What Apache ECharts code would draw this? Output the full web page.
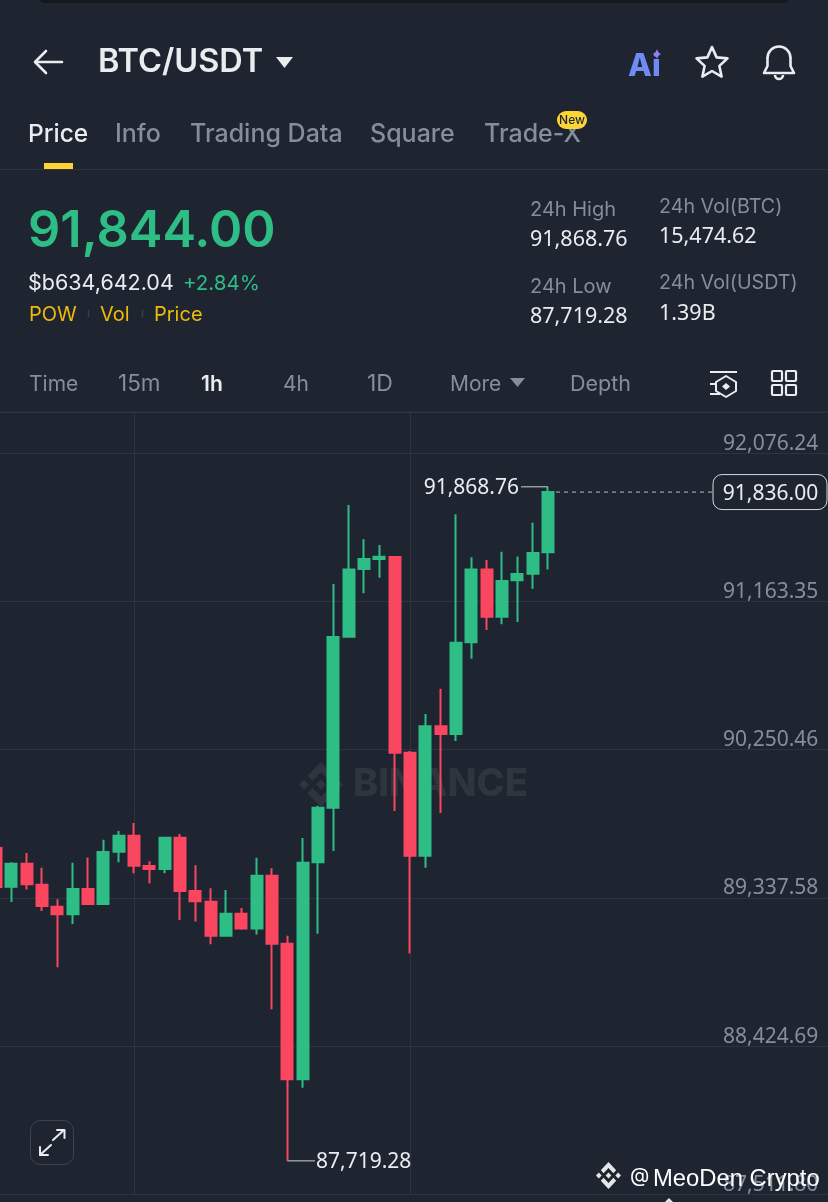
<!DOCTYPE html>
<html><head><meta charset="utf-8">
<style>html,body{margin:0;padding:0;background:#1e2530}#c{width:828px;height:1202px}</style>
<script src="https://cdn.jsdelivr.net/npm/echarts@6/dist/echarts.min.js"></script>
</head><body><div id="c"></div>
<script>
const opens  = [89645,89406,89548,89419,89283,89237,89392,89300,89622,89720,89534,89515,89708,89380,89314,89105,89240,89150,89474,89056,88221,89557,89893,90945,91362,91424,91436,90231,89597,90394,90346,90911,91360,91069,91293,91333,91465];
const closes = [89405,89548,89421,89288,89237,89392,89300,89620,89720,89536,89515,89708,89380,89317,89105,89240,89150,89474,89056,88221,89554,89893,90944,91360,91424,91438,90231,89597,90394,90346,90908,91360,91069,91288,91331,91461,91836];
const lows   = [89355,89312,89390,89257,88910,89177,89300,89300,89557,89489,89427,89489,89201,89193,89052,89105,89142,89113,88652,87719.28,88169,89117,89626,90945,91213,91309,89872,88996,89523,89860,90303,90810,90987,91022,91036,91241,91360];
const highs  = [89663,89557,89614,89523,89329,89554,89587,89696,89749,89799,89563,89708,89731,89538,89397,89386,89275,89585,89520,89105,89706,89905,91270,91756,91545,91510,91436,90242,90470,90625,91699,91434,91418,91469,91440,91647,91868.76];
const extraSlots = ["","","","","","","","","","","","","","","","","","",""];
const candleLabels = opens.map((_, i) => String(i));
const categories = candleLabels.concat(extraSlots);
const axisMin = 87511.80, axisMax = 92325.8, axisStep = 912.888;
const lastPrice = 91836, highPrice = 91868.76, lowPrice = 87719.28;

const BG='#1e2530', GRID='#2d3440', GREEN='#2ebd85', RED='#fb4660', GRAY='#848e9c', WHITE='#eaecef', YEL='#f0b90b';
const FONT='Inter, "Noto Sans", sans-serif', NUM='"Noto Sans", sans-serif', HELV='"Liberation Sans", sans-serif';
const fmt=v=>v.toLocaleString('en-US',{minimumFractionDigits:2,maximumFractionDigits:2});
const LOGO_PARTS=[
 [[38.73,53.2],[63.3,28.63],[87.89,53.23],[102.19,38.92],[63.3,0],[24.42,38.9]],
 [[0,63.31],[14.3,49],[28.61,63.31],[14.3,77.61]],
 [[38.73,73.41],[63.3,97.98],[87.89,73.39],[102.2,87.68],[63.3,126.59],[24.39,87.71]],
 [[98,63.31],[112.3,49],[126.61,63.3],[112.3,77.62]],
 [[77.83,63.3],[63.3,48.76],[48.78,63.27],[63.3,77.77]]
];

const chart=echarts.init(document.getElementById('c'),null,{width:828,height:1202});
chart.setOption({
  backgroundColor:BG, animation:false,
  grid:{left:-4,top:412.5,width:843.33,height:782,containLabel:false,outerBoundsMode:'none'},
  xAxis:{type:'category',data:categories,boundaryGap:false,
    axisLine:{show:true,lineStyle:{color:GRID,width:1}},axisTick:{show:false},axisLabel:{show:false},
    splitLine:{show:true,interval:i=>i===9||i===27,lineStyle:{color:GRID,width:1}}},
  yAxis:{type:'value',position:'right',scale:true,min:axisMin,max:axisMax,interval:axisStep,
    axisLine:{show:false},axisTick:{show:false},
    splitLine:{show:true,lineStyle:{color:GRID,width:1}},
    axisLabel:{inside:true,margin:21,color:GRAY,fontSize:21,fontFamily:NUM,verticalAlign:'bottom',lineHeight:19,showMaxLabel:false,formatter:fmt}},
  series:[{type:'candlestick',barWidth:11.5,clip:false,
    data:opens.map((o,i)=>[o,closes[i],lows[i],highs[i]]),
    itemStyle:{color:GREEN,color0:RED,borderColor:GREEN,borderColor0:RED,borderWidth:2}}]
});

function T(x,y,text,size,fill,weight,align,z,font){return {type:'text',x,y:y+1.5,z:z||10,silent:true,style:{text,fontSize:size,fontFamily:font||FONT,fontWeight:weight||400,fill,align:align||'left',verticalAlign:'middle'}};}
function N(x,y,text,fill,align,z,size){return T(x,y,text,size||21,fill,400,align,z,NUM);}
function L(x1,y1,x2,y2,stroke,w,dash){return {type:'line',z:10,silent:true,shape:{x1,y1,x2,y2},style:{stroke,lineWidth:w||1,lineDash:dash||null}};}
function P(points,stroke,w){return {type:'polyline',z:10,silent:true,shape:{points},style:{stroke,lineWidth:w||2,fill:null,lineCap:'round',lineJoin:'round'}};}
function R(x,y,width,height,r,fill,stroke,z,lw){return {type:'rect',z:z||10,silent:true,shape:{x,y,width,height,r},style:{fill:fill||'transparent',stroke:stroke||null,lineWidth:stroke?(lw||1):0}};}
function G(points,fill,z){return {type:'polygon',z:z||10,silent:true,shape:{points},style:{fill}};}
function logo(x,y,w,h,fill,z){return LOGO_PARTS.map(part=>G(part.map(p=>[x+p[0]*w/126.61,y+p[1]*h/126.59]),fill,z));}

const pLast=chart.convertToPixel({gridIndex:0},[36,lastPrice]);
const pHigh=chart.convertToPixel({gridIndex:0},[36,highPrice]);
const pLow=chart.convertToPixel({gridIndex:0},[19,lowPrice]);

const els=[
  R(38,-10,752,13,8,'#14171c'),
  // header
  P([[36,62],[62,62]],WHITE,2.6),P([[46,51],[35,62],[46,73]],WHITE,2.6),
  T(98,61,'BTC/USDT',32.5,WHITE,600),
  G([[276,57],[293,57],[284.5,68]],WHITE),
  T(628,65,'Ai',31,'#6f8cf6',800),
  G([[657,49],[658.5,52.5],[661,54],[658.5,55.5],[657,59],[655.5,55.5],[653,54],[655.5,52.5]],'#8f7ff0'),
  P([[712,47],[716.6,57.4],[727.5,58.4],[719.4,65.9],[721.6,76.6],[712,71],[702.4,76.6],[704.6,65.9],[696.5,58.4],[707.4,57.4],[712,47]],WHITE,2.6),
  {type:'arc',z:10,silent:true,shape:{cx:779,cy:58,r:11.5,startAngle:Math.PI,endAngle:0,clockwise:true},style:{stroke:WHITE,lineWidth:2.6,fill:null}},
  P([[767.5,58],[767.5,66],[764,73],[794,73],[790.5,66],[790.5,58]],WHITE,2.6),
  {type:'arc',z:10,silent:true,shape:{cx:779,cy:75,r:4,startAngle:0,endAngle:Math.PI,clockwise:true},style:{stroke:WHITE,lineWidth:2.6,fill:null}},
  // tabs
  T(28,133,'Price',24.5,WHITE,500),T(115,133,'Info',25,GRAY,500),T(190,133,'Trading Data',25,GRAY,500),
  T(370,133,'Square',25,GRAY,500),T(484,133,'Trade-X',25,GRAY,500),
  R(557,111,30,18,9,'#fcd535'),T(572,119,'New',12,'#1e2530',500,'center'),
  R(44,163,29,6,0,'#fcd535'),
  L(0,169.5,828,169.5,GRID,1),
  // price block
  T(28,230,'91,844.00',50.5,GREEN,600),
  T(28,282,'$b634,642.04',21.5,WHITE,400),T(183,282,'+2.84%',20.5,GREEN,400),
  T(29,313,'POW',20,YEL,400),T(100,313,'Vol',20,YEL,400),T(154,313,'Price',20,YEL,400),
  L(88.5,310,88.5,317,'#3a404a',1.5),L(142.5,310,142.5,317,'#3a404a',1.5),
  T(530,208,'24h High',20,GRAY),N(530,238,'91,868.76',WHITE,'left',10,21.5),
  T(530,285,'24h Low',20,GRAY),N(530,315,'87,719.28',WHITE,'left',10,21.5),
  T(659,206,'24h Vol(BTC)',19.7,GRAY),N(659,235,'15,474.62',WHITE,'left',10,21.5),
  T(659,282,'24h Vol(USDT)',19.7,GRAY),N(659,312,'1.39B',WHITE,'left',10,21.5),
  // interval row
  T(29,383,'Time',21,GRAY),T(118,383,'15m',22.5,GRAY),T(201,383,'1h',21,WHITE,600),T(283,383,'4h',21,GRAY),
  T(367,383,'1D',23,GRAY),T(450,383,'More',21,GRAY),G([[510,378],[525,378],[517.5,387]],GRAY),T(570,383,'Depth',21.5,GRAY),
  L(710,372,737,372,WHITE,2),L(710,384,720,384,WHITE,2),L(710,394,720,394,WHITE,2),
  G([[726,376],[736,382],[736,391],[726,397],[716,391],[716,382]],BG),
  P([[726,376],[736,382],[736,391],[726,397],[716,391],[716,382],[726,376]],WHITE,2),
  G([[726,383],[730,386.5],[726,390],[722,386.5]],WHITE),
  R(772,371,10,10,1,null,WHITE,10,2.2),R(786,371,10,10,1,null,WHITE,10,2.2),R(772,385,10,10,1,null,WHITE,10,2.2),R(786,385,10,10,1,null,WHITE,10,2.2),
  L(0,412,828,412,GRID,1),
  // watermark
  ...logo(299,762,44,45,'#2f353f',1),
  {type:'text',x:353,y:785,z:1,silent:true,style:{text:'BINANCE',fontSize:38,fontWeight:800,fontFamily:FONT,fill:'#2f353f',verticalAlign:'middle'}},
  // price annotations
  L(pLast[0]+8,pLast[1],713,pLast[1],'#b7bdc6',1,[4,4]),
  R(713,pLast[1]-17.5,114,35,9,BG,'#d5d9df',11),
  N(770.5,pLast[1],fmt(lastPrice),WHITE,'center',12),
  L(521,pHigh[1],pHigh[0],pHigh[1],'#9aa1ab',1.4),
  N(519,pHigh[1],fmt(highPrice),WHITE,'right'),
  L(pLow[0],pLow[1],315,pLow[1],'#9aa1ab',1.4),
  N(316,pLow[1],fmt(lowPrice),WHITE),
  // expand button
  R(30.5,1120.5,43,44,10,null,'#3d444f'),
  P([[53,1140],[64,1130]],WHITE,2),P([[57,1130],[64.5,1130],[64.5,1138]],WHITE,2),
  P([[40,1155],[51,1145]],WHITE,2),P([[40,1147],[40,1155],[48,1155]],WHITE,2),
  // attribution
  ...logo(596,1162,25,27,'#e6e6e6',13),
  T(630,1174,'@',20,'#ffffff',400,'left',13),
  T(653,1177.5,'MeoDen Crypto',23.8,'#ffffff',400,'left',13,HELV),
  ...logo(661,1198,16,16,'#e6e6e6',13)
];
chart.setOption({graphic:{elements:els}});
</script></body></html>
